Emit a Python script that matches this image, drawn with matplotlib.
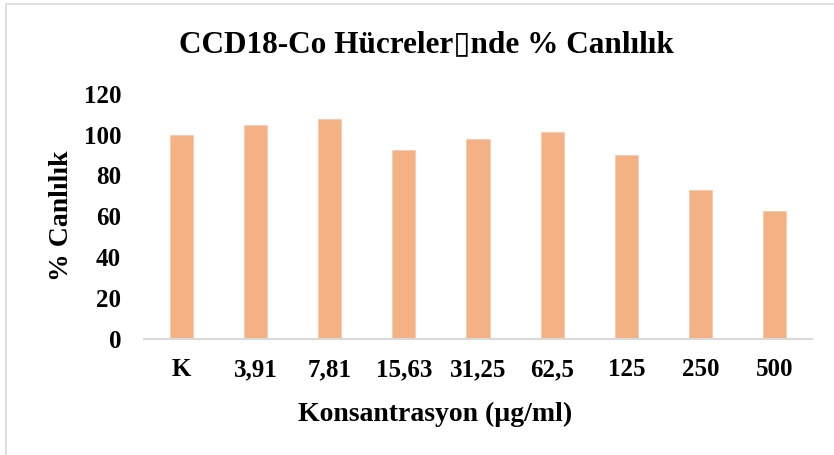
import matplotlib
matplotlib.use("Agg")
import matplotlib.pyplot as plt
from matplotlib.patches import Rectangle

categories = ["K", "3,91", "7,81", "15,63", "31,25", "62,5", "125", "250", "500"]
values = [100.0, 104.8, 107.6, 92.4, 97.8, 101.3, 90.1, 72.7, 62.4]
yticks = [0, 20, 40, 60, 80, 100, 120]

title = "CCD18-Co Hücreler\u25afnde % Canlılık"
xlabel = "Konsantrasyon (µg/ml)"
ylabel = "% Canlılık"

plt.rcParams['font.family'] = ['Liberation Serif', 'DejaVu Sans']
plt.rcParams['font.weight'] = 'bold'

W, H = 834, 455
fig = plt.figure(figsize=(W / 100, H / 100), dpi=100)
ax = fig.add_axes([144 / W, 1 - 338.5 / H, (812 - 144) / W, (338.5 - 94) / H])

x = list(range(len(categories)))
ax.bar(x, values, width=0.31, color='#F4B183', edgecolor='#F8CBAD', linewidth=0.6, zorder=2)

ax.set_xlim(-0.5, len(categories) - 0.5)
ax.set_ylim(0, 120)
ax.set_yticks(yticks)
ax.set_yticklabels([str(t) for t in yticks], fontsize=18, fontweight='bold')
ax.set_xticks(x)
ax.set_xticklabels(categories, fontsize=18, fontweight='bold')
ax.tick_params(axis='both', length=0)
ax.tick_params(axis='y', pad=16.5)
ax.tick_params(axis='x', pad=14)

for s in ['top', 'right', 'left']:
    ax.spines[s].set_visible(False)
ax.spines['bottom'].set_color('#D9D9D9')
ax.spines['bottom'].set_linewidth(1.5)

fig.text(426 / W, 1 - 45 / H, title, ha='center', va='center', fontsize=22.5, fontweight='bold')
fig.text(435 / W, 1 - 414 / H, xlabel, ha='center', va='center', fontsize=20, fontweight='bold')
fig.text(62 / W, 1 - 215.5 / H, ylabel, ha='center', va='center', rotation=90, fontsize=20, fontweight='bold')

fig.patches.append(Rectangle((6 / W, -0.05), 1.1, 1 - 4 / H + 0.05, transform=fig.transFigure,
                             fill=False, edgecolor='#D9D9D9', linewidth=1.2))

fig.savefig("out.png", dpi=100)
